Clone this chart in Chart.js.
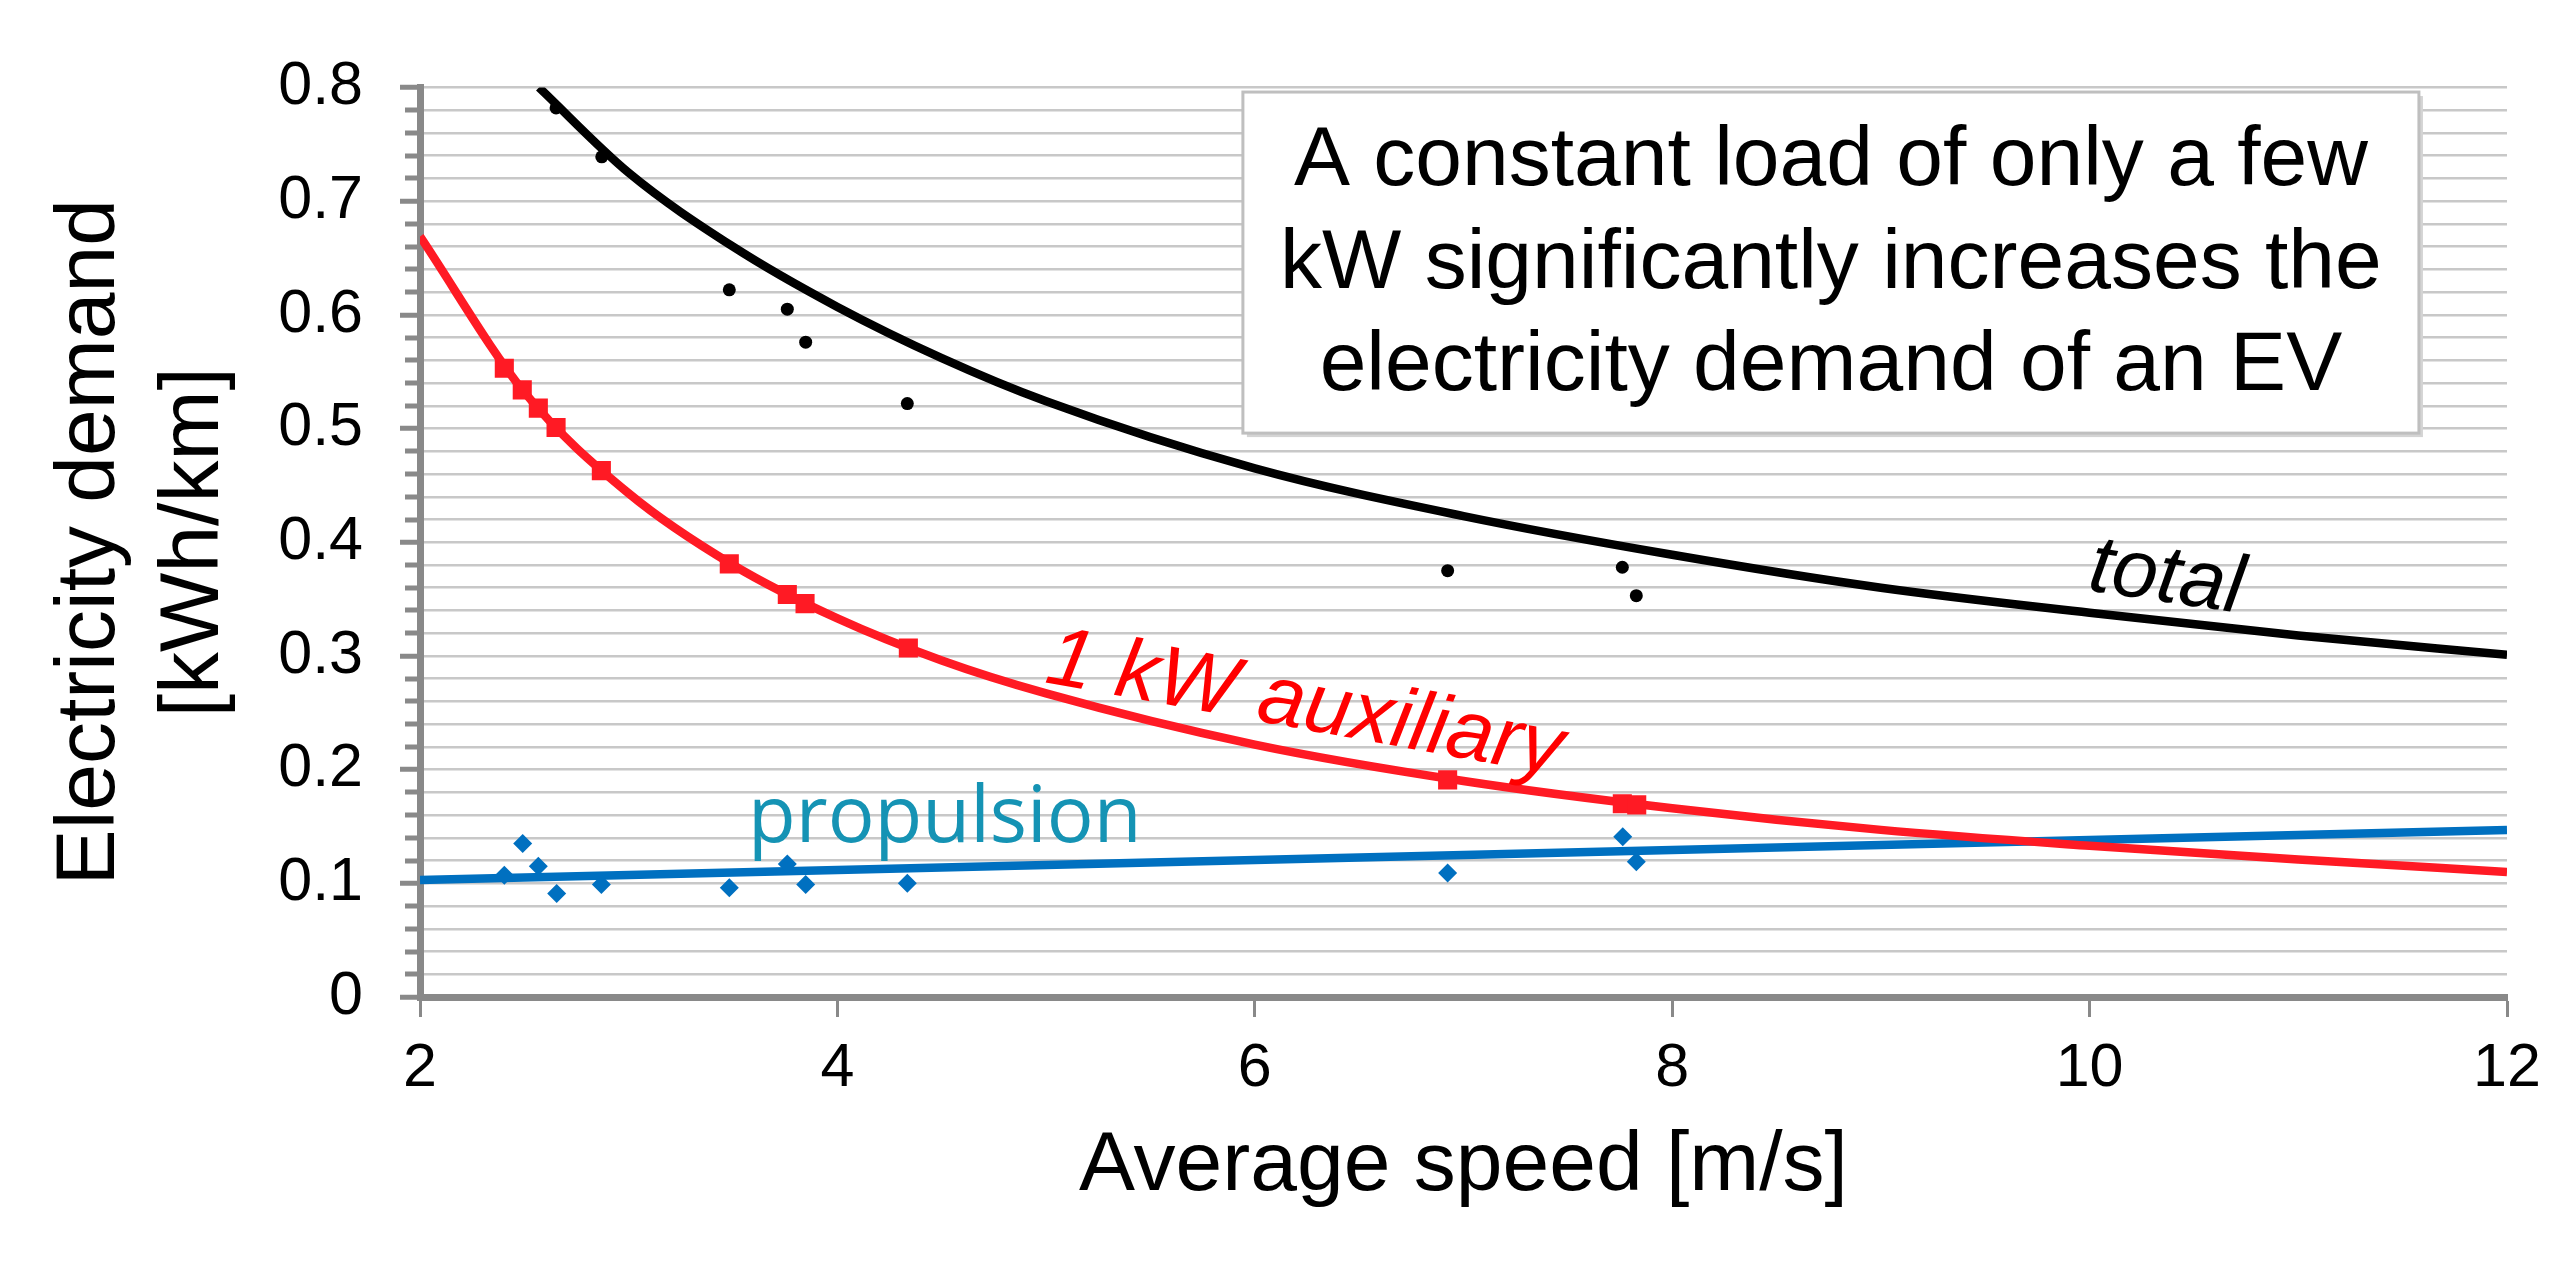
<!DOCTYPE html>
<html>
<head>
<meta charset="utf-8">
<script src="https://cdn.jsdelivr.net/npm/chart.js@4.4.1/dist/chart.umd.min.js"></script>
<style>
  html, body { margin: 0; padding: 0; background: #ffffff; }
  #wrap { width: 2575px; height: 1261px; }
</style>
</head>
<body>
<div id="wrap"><canvas id="c" width="2575" height="1261"></canvas></div>
<script>
// ---- data ----
const speedTotal  = [2.652, 2.871, 3.482, 3.760, 3.848, 4.335, 6.924, 7.761, 7.828];
const demandTotal = [0.782, 0.739, 0.622, 0.605, 0.576, 0.522, 0.375, 0.378, 0.353];

const speedAux  = [2.404, 2.490, 2.567, 2.652, 2.869, 3.482, 3.760, 3.845, 4.340, 6.924, 7.761, 7.830];
const demandAux = [0.553, 0.534, 0.518, 0.501, 0.463, 0.381, 0.354, 0.346, 0.307, 0.191, 0.170, 0.169];

const speedProp  = [2.404, 2.492, 2.567, 2.655, 2.869, 3.482, 3.760, 3.848, 4.335, 6.924, 7.763, 7.828];
const demandProp = [0.107, 0.135, 0.115, 0.091, 0.099, 0.096, 0.117, 0.099, 0.100, 0.109, 0.141, 0.119];

// trend curves (read at sample speeds)
const totalFitX = [2.57, 3, 3.5, 4, 4.5, 5, 6, 7, 8, 9, 10, 11, 12];
const totalFitY = [0.800, 0.725, 0.660, 0.607, 0.562, 0.524, 0.465, 0.423, 0.389, 0.360, 0.338, 0.318, 0.301];

const auxFitX = [2, 2.5, 3, 3.5, 4, 4.5, 5, 6, 7, 8, 9, 10, 11, 12];
const auxFitY = [0.669, 0.532, 0.443, 0.380, 0.333, 0.296, 0.267, 0.222, 0.190, 0.166, 0.147, 0.133, 0.121, 0.110];

const propFitX = [2, 12];
const propFitY = [0.103, 0.147];

const xTickLabels = ['2', '4', '6', '8', '10', '12'];
const yTickLabels = ['0', '0.1', '0.2', '0.3', '0.4', '0.5', '0.6', '0.7', '0.8'];

const xTitle = 'Average speed [m/s]';
const yTitle = ['Electricity demand', '[kWh/km]'];
const noteLines = ['A constant load of only a few', 'kW significantly increases the', 'electricity demand of an EV'];
const labelTotal = 'total';
const labelAux = '1 kW auxiliary';
const labelProp = 'propulsion';

// ---- helpers ----
const pts = (xs, ys) => xs.map((v, i) => ({ x: v, y: ys[i] }));
const FONT = '"Liberation Sans", Arial, Helvetica, sans-serif';
Chart.defaults.font.family = FONT;
Chart.defaults.color = '#000000';
const AXIS_GRAY = '#898989';

const isMajor = v => Math.abs(v * 10 - Math.round(v * 10)) < 1e-6;

const overlay = {
  id: 'overlay',
  afterDraw(chart) {
    const { ctx } = chart;
    const xs = chart.scales.x, ys = chart.scales.y;
    const X = v => xs.getPixelForValue(v), Y = v => ys.getPixelForValue(v);
    ctx.save();
    // minor y tick marks (shorter than the major ones)
    ctx.strokeStyle = AXIS_GRAY;
    ctx.lineWidth = 5;
    ys.ticks.forEach(t => {
      if (isMajor(t.value)) return;
      const py = Math.round(Y(t.value));
      ctx.beginPath();
      ctx.moveTo(xs.left - 15, py);
      ctx.lineTo(xs.left, py);
      ctx.stroke();
    });
    ctx.restore();
  },
  afterDatasetsDraw(chart) {
    const { ctx } = chart;
    const xs = chart.scales.x, ys = chart.scales.y;
    const X = v => xs.getPixelForValue(v), Y = v => ys.getPixelForValue(v);
    ctx.save();
    // annotation box
    const bx1 = X(5.943), bx2 = X(11.578), by1 = Y(0.796), by2 = Y(0.496);
    ctx.fillStyle = '#d4d4d4';
    ctx.fillRect(bx1 + 4, by1 + 4, bx2 - bx1, by2 - by1);
    ctx.fillStyle = '#ffffff';
    ctx.fillRect(bx1, by1, bx2 - bx1, by2 - by1);
    ctx.strokeStyle = '#bfbfbf';
    ctx.lineWidth = 3;
    ctx.strokeRect(bx1, by1, bx2 - bx1, by2 - by1);
    ctx.fillStyle = '#000000';
    ctx.font = '84px ' + FONT;
    ctx.textAlign = 'center';
    ctx.textBaseline = 'alphabetic';
    const baseVals = [0.714, 0.6236, 0.534];
    const cx = (bx1 + bx2) / 2;
    noteLines.forEach((t, i) => ctx.fillText(t, cx, Y(baseVals[i])));

    // "total"
    ctx.save();
    ctx.translate(X(10.352), Y(0.348));
    ctx.rotate(8.5 * Math.PI / 180);
    ctx.font = 'italic 82px ' + FONT;
    ctx.fillStyle = '#000000';
    ctx.fillText(labelTotal, 0, 0);
    ctx.restore();

    // "1 kW auxiliary"
    ctx.save();
    ctx.translate(X(6.22), Y(0.236));
    ctx.rotate(10.3 * Math.PI / 180);
    ctx.font = 'italic 84px ' + FONT;
    ctx.fillStyle = '#ff0000';
    ctx.fillText(labelAux, 0, 0);
    ctx.restore();

    // "propulsion"
    ctx.font = '78px "Open Sans", ' + FONT;
    ctx.fillStyle = '#1593b4';
    ctx.textAlign = 'left';
    ctx.fillText(labelProp, X(3.572), Y(0.1363));
    ctx.restore();
  }
};

new Chart(document.getElementById('c'), {
  type: 'scatter',
  data: {
    datasets: [
      { label: 'total fit', data: pts(totalFitX, totalFitY), showLine: true, borderColor: '#000000', borderWidth: 8.5,
        pointRadius: 0, cubicInterpolationMode: 'monotone', order: 1 },
      { label: 'total', data: pts(speedTotal, demandTotal), backgroundColor: '#000000', pointStyle: 'circle',
        pointRadius: 6.5, pointBorderWidth: 0, order: 2 },
      { label: 'aux fit', data: pts(auxFitX, auxFitY), showLine: true, borderColor: '#ff1a24', borderWidth: 8.5,
        pointRadius: 0, cubicInterpolationMode: 'monotone', order: 4 },
      { label: 'aux', data: pts(speedAux, demandAux), backgroundColor: '#ff1a24', pointStyle: 'rect',
        pointRadius: 13.5, pointBorderWidth: 0, order: 3 },
      { label: 'prop fit', data: pts(propFitX, propFitY), showLine: true, borderColor: '#0070c0', borderWidth: 8.5,
        pointRadius: 0, order: 6 },
      { label: 'prop', data: pts(speedProp, demandProp), backgroundColor: '#0070c0', pointStyle: 'rectRot',
        pointRadius: 9.5, pointBorderWidth: 0, order: 5 }
    ]
  },
  options: {
    responsive: false,
    devicePixelRatio: 1,
    animation: false,
    layout: { padding: { left: 0, top: 87.5, right: 68, bottom: 0 } },
    plugins: { legend: { display: false }, tooltip: { enabled: false } },
    scales: {
      x: {
        type: 'linear', min: 2, max: 12,
        afterFit(s) { s.height = 264; s.paddingLeft = 0; s.paddingRight = 0; },
        ticks: { stepSize: 2, padding: 16, font: { size: 61 }, color: '#000000',
                 callback: (v) => xTickLabels[Math.round((v - 2) / 2)] ?? '', maxRotation: 0, autoSkip: false },
        grid: { drawOnChartArea: false, drawTicks: true, tickLength: 20, tickColor: AXIS_GRAY, tickWidth: 3 },
        border: { color: AXIS_GRAY, width: 7 },
        title: { display: true, text: xTitle, font: { size: 84, lineHeight: 1.2 }, color: '#000000',
                 padding: { top: 0, bottom: 43.6 } }
      },
      y: {
        type: 'linear', min: 0, max: 0.8,
        afterFit(s) { s.width = 420; s.paddingTop = 0; s.paddingBottom = 0; },
        ticks: { stepSize: 0.02, padding: 37, font: { size: 61 }, color: '#000000', autoSkip: false,
                 callback: (v) => isMajor(v) ? yTickLabels[Math.round(v * 10)] : '' },
        grid: { color: '#c8c8c8', lineWidth: 2.5, drawTicks: true, tickLength: 20,
                tickColor: (c) => (c.tick && isMajor(c.tick.value)) ? AXIS_GRAY : 'rgba(0,0,0,0)', tickWidth: 5 },
        border: { color: AXIS_GRAY, width: 7 },
        title: { display: true, text: yTitle, font: { size: 84, lineHeight: 1.24 }, color: '#000000',
                 padding: { top: 39, bottom: 0 } }
      }
    }
  },
  plugins: [overlay]
});
</script>
</body>
</html>
